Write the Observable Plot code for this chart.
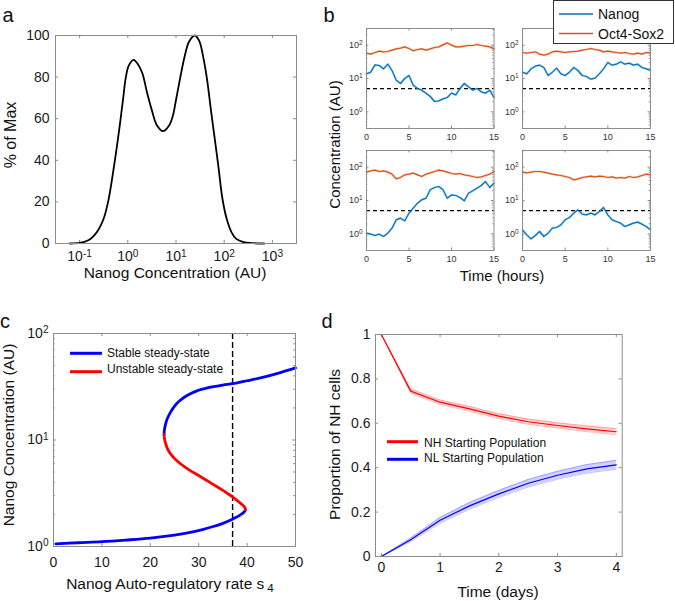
<!DOCTYPE html>
<html><head><meta charset="utf-8">
<script src="https://cdn.jsdelivr.net/npm/d3@7"></script>
<script src="https://cdn.jsdelivr.net/npm/@observablehq/plot@0.6"></script>
<style>
body{margin:0;background:#fff}
#fig{position:relative;width:675px;height:601px;overflow:hidden;background:#fff;font-family:"Liberation Sans",Arial,Helvetica,sans-serif}
</style></head><body><div id="fig"></div>
<script>
// ---------------- Panel a: Nanog distribution ----------------
const aLogConc = [-1.2,-1.0,-0.9,-0.8,-0.7,-0.6,-0.5,-0.4,-0.3,-0.2,-0.1,-0.04,0.02,0.12,0.2,0.3,0.4,0.5,0.6,0.73,0.85,0.93,1.0,1.09,1.18,1.27,1.39,1.48,1.57,1.65,1.72,1.8,1.88,1.96,2.05,2.15,2.25,2.4,2.6,2.83];
const aPctMax  = [0,0.3,0.8,1.8,3.8,7,12,21,35,51,69,80,85.5,88.3,86.5,82,72.5,64,57,54,56.5,61,69,80,90,97,100,97.5,89,78,65,51,37,22,12,5.5,2.2,0.7,0.15,0];
const aXTicks = [0.1,1,10,100,1000];
const aXTickLabels = ["10^-1","10^0","10^1","10^2","10^3"];
const aYTicks = [0,20,40,60,80,100];

// ---------------- Panel b: trajectories (log10 of concentration) ----------------
const bHours = [0,0.5,1,1.5,2,2.5,3,3.5,4,4.5,5,5.5,6,6.5,7,7.5,8,8.5,9,9.5,10,10.5,11,11.5,12,12.5,13,13.5,14,14.5,15];
const bOctTL   = [1.76,1.73,1.78,1.82,1.80,1.81,1.85,1.89,1.91,1.95,1.90,1.83,1.87,1.89,1.85,1.89,1.93,1.95,2.01,2.07,2.00,1.95,1.95,1.97,1.99,1.99,2.02,1.99,1.97,1.95,1.89];
const bNanogTL = [1.14,1.19,1.41,1.39,1.29,1.43,1.24,0.95,0.85,1.00,1.09,0.80,0.70,0.65,0.56,0.46,0.31,0.33,0.39,0.43,0.56,0.51,0.70,0.85,0.75,0.65,0.70,0.60,0.56,0.65,0.43];
const bOctTR   = [1.78,1.76,1.78,1.80,1.73,1.70,1.73,1.80,1.82,1.80,1.78,1.80,1.81,1.82,1.85,1.87,1.90,1.87,1.85,1.80,1.82,1.80,1.78,1.76,1.78,1.75,1.73,1.76,1.73,1.78,1.76];
const bNanogTR = [1.19,1.14,1.29,1.37,1.40,1.33,1.09,1.19,1.31,1.14,1.09,1.19,1.33,1.24,1.09,1.06,0.98,1.01,1.14,1.29,1.48,1.40,1.43,1.50,1.43,1.46,1.40,1.43,1.33,1.29,1.24];
const bOctBL   = [1.85,1.89,1.91,1.87,1.89,1.85,1.79,1.65,1.69,1.77,1.79,1.82,1.77,1.72,1.79,1.83,1.87,1.91,1.89,1.85,1.81,1.79,1.81,1.77,1.75,1.72,1.69,1.71,1.75,1.79,1.87];
const bNanogBL = [0.02,-0.01,-0.05,-0.01,-0.08,0.02,0.17,0.42,0.47,0.39,0.62,0.77,0.92,1.02,1.07,1.32,1.39,1.42,1.32,1.07,1.17,1.15,1.09,0.99,1.22,1.29,1.37,1.45,1.57,1.39,1.52];
const bOctBR   = [1.85,1.83,1.85,1.87,1.87,1.85,1.82,1.79,1.77,1.75,1.72,1.69,1.62,1.65,1.69,1.71,1.73,1.71,1.73,1.72,1.69,1.71,1.67,1.69,1.67,1.72,1.69,1.71,1.75,1.79,1.77];
const bNanogBR = [0.12,-0.03,-0.15,-0.05,0.07,-0.08,0.02,0.17,0.19,0.27,0.42,0.49,0.62,0.72,0.59,0.57,0.62,0.57,0.67,0.79,0.57,0.42,0.37,0.32,0.22,0.27,0.32,0.35,0.29,0.22,0.12];
const bThreshold = 5;
const bXTicks = [0,5,10,15];
const bYTicks = [1,10,100];
const bYTickLabels = ["10^0","10^1","10^2"];
const bSeriesNames = ["Nanog","Oct4-Sox2"];

// ---------------- Panel c: bifurcation diagram ----------------
const cLowS  = [0.5,5,10,15,20,25,28,31,33,35,36.5,37.5,38.3,38.9,39.3,39.55,39.65];
const cLowC  = [1.06,1.085,1.11,1.15,1.2,1.28,1.35,1.45,1.54,1.65,1.76,1.86,1.94,2.02,2.09,2.16,2.22];
const cUnstS = [39.65,39.6,39.4,39.0,38.4,37.7,37.0,36.0,35.0,33.0,30.5,28.0,26.3,25.0,24.1,23.5,23.1,22.9,22.85];
const cUnstC = [2.22,2.29,2.37,2.47,2.6,2.76,2.92,3.14,3.37,3.83,4.5,5.25,5.95,6.7,7.5,8.4,9.5,10.5,11.3];
const cHighS = [22.85,22.9,23.1,23.5,24.1,24.9,26,27.5,29.5,32,35,37,40,43,46.5,50];
const cHighC = [11.3,12.3,13.8,15.8,18,20.5,23.2,26,28.8,31,32.8,33.8,36,38.5,42.5,47.6];
const cThreshold = 37;
const cXTicks = [0,10,20,30,40,50];
const cYTicks = [1,10,100];
const cYTickLabels = ["10^0","10^1","10^2"];
const cLegend = ["Stable steady-state","Unstable steady-state"];

// ---------------- Panel d: proportion of NH cells ----------------
const dDays   = [0,0.5,1,1.5,2,2.5,3,3.5,4];
const dNHMean = [1,0.745,0.695,0.665,0.632,0.607,0.59,0.575,0.562];
const dNHErr  = [0,0.01,0.01,0.011,0.011,0.012,0.012,0.013,0.014];
const dNLMean = [0,0.075,0.163,0.228,0.282,0.33,0.366,0.395,0.413];
const dNLErr  = [0,0.008,0.013,0.015,0.016,0.017,0.018,0.019,0.02];
const dXTicks = [0,1,2,3,4];
const dYTicks = [0,0.2,0.4,0.6,0.8,1];
const dLegend = ["NH Starting Population","NL Starting Population"];

// ---------------- helpers ----------------
const NS = "http://www.w3.org/2000/svg";
const FIG = document.getElementById("fig");
const FONT = "'Liberation Sans', Arial, Helvetica, sans-serif";
const FRAME = "#8c8c8c";
const BLUE_M = "#0072BD", ORANGE_M = "#D95319";
const RED = "#ff0000", BLUE = "#0000ff";

function sty(size, color) {
  return {fontFamily: FONT, fontSize: size + "px", color: color, background: "transparent", overflow: "visible"};
}
function supify(svg) {
  svg.querySelectorAll("text").forEach(t => {
    const s = t.textContent;
    const i = s.indexOf("^");
    if (i < 0) return;
    t.textContent = s.slice(0, i);
    const sp = document.createElementNS(NS, "tspan");
    sp.setAttribute("dy", "-0.45em");
    sp.setAttribute("font-size", "72%");
    sp.textContent = s.slice(i + 1);
    t.appendChild(sp);
  });
}
function boxTicks(xt, yt, iw, ih, len) {
  return [
    Plot.ruleX(xt, {x: d => d, insetTop: ih - len, stroke: FRAME}),
    Plot.ruleX(xt, {x: d => d, insetBottom: ih - len, stroke: FRAME}),
    Plot.ruleY(yt, {y: d => d, insetRight: iw - len, stroke: FRAME}),
    Plot.ruleY(yt, {y: d => d, insetLeft: iw - len, stroke: FRAME})
  ];
}
function place(fx0, fy0, fx1, fy1, pad, opts, makeMarks) {
  const [pl, pr, pt, pb] = pad;
  const iw = fx1 - fx0, ih = fy1 - fy0;
  const svg = Plot.plot({
    width: iw + pl + pr, height: ih + pt + pb,
    marginLeft: pl, marginRight: pr, marginTop: pt, marginBottom: pb,
    ...opts, marks: makeMarks(iw, ih)
  });
  svg.style.position = "absolute";
  svg.style.left = (fx0 - pl) + "px";
  svg.style.top = (fy0 - pt) + "px";
  supify(svg);
  FIG.appendChild(svg);
  return svg;
}
function fmt(ticks, labels) { const m = new Map(ticks.map((t, i) => [t, labels[i]])); return d => m.get(d); }
const plain = d => String(d);
function logMinor(lo, hi) {
  const out = [];
  for (let e = -2; e <= 3; e++) for (let k = 2; k <= 9; k++) { const v = k * 10 ** e; if (v > lo && v < hi) out.push(v); }
  return out;
}

// ---------------- Panel a ----------------
const aData = aLogConc.map((v, i) => ({x: 10 ** v, y: aPctMax[i]}));
place(55, 35, 296, 243, [55, 20, 10, 40], {
  x: {type: "log", domain: [10 ** -1.5, 10 ** 3.5]},
  y: {domain: [0, 100]},
  style: sty(14, "#1a1a1a")
}, (iw, ih) => [
  ...boxTicks(aXTicks, aYTicks, iw, ih, 3),
  Plot.axisX({ticks: aXTicks, tickFormat: fmt(aXTicks, aXTickLabels), tickSize: 0, tickPadding: 8, label: null}),
  Plot.axisY({ticks: aYTicks, tickFormat: plain, tickSize: 0, tickPadding: 6, label: null}),
  Plot.line(aData, {x: "x", y: "y", curve: "catmull-rom", stroke: "#000", strokeWidth: 1.8}),
  Plot.frame({stroke: FRAME})
]);

// ---------------- Panel b ----------------
const bMinor = logMinor(10 ** -0.5, 10 ** 2.5);
function bPlot(oct, nanog, fx0, fy0, fx1, fy1) {
  const data = bHours.map((t, i) => ({t, oct: 10 ** oct[i], nanog: 10 ** nanog[i]}));
  place(fx0, fy0, fx1, fy1, [34, 8, 4, 18], {
    x: {domain: [0, 15]},
    y: {type: "log", domain: [10 ** -0.5, 10 ** 2.5]},
    style: sty(9, "#333")
  }, (iw, ih) => [
    ...boxTicks(bXTicks, bYTicks, iw, ih, 2.5),
    ...boxTicks([], bMinor, iw, ih, 1.3),
    Plot.axisX({ticks: bXTicks, tickFormat: plain, tickSize: 0, tickPadding: 5, label: null}),
    Plot.axisY({ticks: bYTicks, tickFormat: fmt(bYTicks, bYTickLabels), tickSize: 0, tickPadding: 4, label: null}),
    Plot.ruleY([bThreshold], {stroke: "#000", strokeWidth: 1.2, strokeDasharray: "4,3"}),
    Plot.line(data, {x: "t", y: "oct", stroke: ORANGE_M, strokeWidth: 2.4, strokeOpacity: 0.25}),
    Plot.line(data, {x: "t", y: "oct", stroke: ORANGE_M, strokeWidth: 1.2}),
    Plot.line(data, {x: "t", y: "nanog", stroke: BLUE_M, strokeWidth: 2.4, strokeOpacity: 0.25}),
    Plot.line(data, {x: "t", y: "nanog", stroke: BLUE_M, strokeWidth: 1.2}),
    Plot.frame({stroke: FRAME})
  ]);
}
bPlot(bOctTL, bNanogTL, 366, 28, 493.5, 128);
bPlot(bOctTR, bNanogTR, 522, 28, 650, 128);
bPlot(bOctBL, bNanogBL, 366, 150, 493.5, 250);
bPlot(bOctBR, bNanogBR, 522, 150, 650, 250);

// ---------------- Panel c ----------------
const cMinor = logMinor(1, 100);
const toPts = (S, C) => S.map((s, i) => ({s, c: C[i]}));
place(53, 333, 295, 546, [53, 20, 10, 40], {
  x: {domain: [0, 50]},
  y: {type: "log", domain: [1, 100]},
  style: sty(14, "#1a1a1a")
}, (iw, ih) => [
  ...boxTicks(cXTicks, cYTicks, iw, ih, 3),
  ...boxTicks([], cMinor, iw, ih, 1.8),
  Plot.axisX({ticks: cXTicks, tickFormat: plain, tickSize: 0, tickPadding: 11, label: null}),
  Plot.axisY({ticks: cYTicks, tickFormat: fmt(cYTicks, cYTickLabels), tickSize: 0, tickPadding: 5, label: null}),
  Plot.ruleX([cThreshold], {stroke: "#000", strokeWidth: 1.4, strokeDasharray: "6,3"}),
  Plot.line(toPts(cLowS, cLowC), {x: "s", y: "c", curve: "catmull-rom", stroke: BLUE, strokeWidth: 2.8}),
  Plot.line(toPts(cHighS, cHighC), {x: "s", y: "c", curve: "catmull-rom", stroke: BLUE, strokeWidth: 2.8}),
  Plot.line(toPts(cUnstS, cUnstC), {x: "s", y: "c", curve: "catmull-rom", stroke: RED, strokeWidth: 2.8}),
  Plot.frame({stroke: FRAME})
]);

// ---------------- Panel d ----------------
const dNH = dDays.map((t, i) => ({t, m: dNHMean[i], lo: dNHMean[i] - dNHErr[i], hi: dNHMean[i] + dNHErr[i]}));
const dNL = dDays.map((t, i) => ({t, m: dNLMean[i], lo: dNLMean[i] - dNLErr[i], hi: dNLMean[i] + dNLErr[i]}));
place(375, 334, 621.7, 556, [50, 20, 10, 40], {
  x: {domain: [-0.1, 4.1]},
  y: {domain: [0, 1]},
  style: sty(14, "#1a1a1a")
}, (iw, ih) => [
  ...boxTicks(dXTicks, dYTicks, iw, ih, 3),
  Plot.axisX({ticks: dXTicks, tickFormat: plain, tickSize: 0, tickPadding: 6, label: null}),
  Plot.axisY({ticks: dYTicks, tickFormat: plain, tickSize: 0, tickPadding: 5, label: null}),
  Plot.areaY(dNH, {x: "t", y1: "lo", y2: "hi", fill: RED, fillOpacity: 0.18}),
  Plot.line(dNH, {x: "t", y: "lo", stroke: RED, strokeOpacity: 0.3, strokeWidth: 0.8}),
  Plot.line(dNH, {x: "t", y: "hi", stroke: RED, strokeOpacity: 0.3, strokeWidth: 0.8}),
  Plot.line(dNH, {x: "t", y: "m", stroke: RED, strokeWidth: 1.2}),
  Plot.areaY(dNL, {x: "t", y1: "lo", y2: "hi", fill: BLUE, fillOpacity: 0.18}),
  Plot.line(dNL, {x: "t", y: "lo", stroke: BLUE, strokeOpacity: 0.3, strokeWidth: 0.8}),
  Plot.line(dNL, {x: "t", y: "hi", stroke: BLUE, strokeOpacity: 0.3, strokeWidth: 0.8}),
  Plot.line(dNL, {x: "t", y: "m", stroke: BLUE, strokeWidth: 1.2}),
  Plot.frame({stroke: FRAME})
]);

// ---------------- overlay: labels & legends ----------------
const ov = document.createElementNS(NS, "svg");
ov.setAttribute("width", 675); ov.setAttribute("height", 601);
ov.style.cssText = "position:absolute;left:0;top:0;overflow:visible";
ov.setAttribute("font-family", FONT);
FIG.appendChild(ov);
function el(tag, attrs) { const e = document.createElementNS(NS, tag); for (const k in attrs) e.setAttribute(k, attrs[k]); ov.appendChild(e); return e; }
function txt(s, x, y, size, attrs = {}) { const t = el("text", {x, y, "font-size": size, fill: "#111", ...attrs}); t.textContent = s; return t; }
function vtxt(s, cx, cy, size) { const t = el("text", {transform: `translate(${cx},${cy}) rotate(-90)`, "text-anchor": "middle", dy: "0.35em", "font-size": size, fill: "#111"}); t.textContent = s; return t; }
function seg(x1, x2, y, color, w) { el("line", {x1, x2, y1: y, y2: y, stroke: color, "stroke-width": w}); }

// panel letters
txt("a", 2.5, 21.5, 20); txt("b", 323.5, 21.5, 20); txt("c", 0, 328, 20); txt("d", 321.5, 328, 20);

// axis titles
txt("Nanog Concentration (AU)", 175, 277.5, 15.5, {"text-anchor": "middle"});
vtxt("% of Max", 10, 135, 16);
vtxt("Concentration (AU)", 335, 144.5, 15);
txt("Time (hours)", 502, 281, 15, {"text-anchor": "middle"});
vtxt("Nanog Concentration (AU)", 9, 435, 15.5);
const cx = txt("Nanog Auto-regulatory rate s", 170, 589, 15.5, {"text-anchor": "middle"});
const sub = document.createElementNS(NS, "tspan"); sub.setAttribute("dx", "3"); sub.setAttribute("dy", "0.3em"); sub.setAttribute("font-size", "75%"); sub.textContent = "4"; cx.appendChild(sub);
vtxt("Proportion of NH cells", 335, 444.5, 15.5);
txt("Time (days)", 498, 597, 15.5, {"text-anchor": "middle"});

// legend b
el("rect", {x: 553.5, y: 0.5, width: 120, height: 43, fill: "#fff", stroke: "#333", "stroke-width": 1});
seg(559, 593, 14, BLUE_M, 1.5); txt(bSeriesNames[0], 598, 19, 14);
seg(559, 593, 33.5, ORANGE_M, 1.5); txt(bSeriesNames[1], 598, 38.5, 14);

// legend c
seg(70, 102, 353.3, BLUE, 3); txt(cLegend[0], 107, 357.3, 12);
seg(70, 102, 371.7, RED, 3); txt(cLegend[1], 107, 373.3, 12);

// legend d
seg(387, 418, 441.7, RED, 3); txt(dLegend[0], 424, 447, 12);
seg(387, 418, 459.3, BLUE, 3); txt(dLegend[1], 424, 462, 12);
</script></body></html>
